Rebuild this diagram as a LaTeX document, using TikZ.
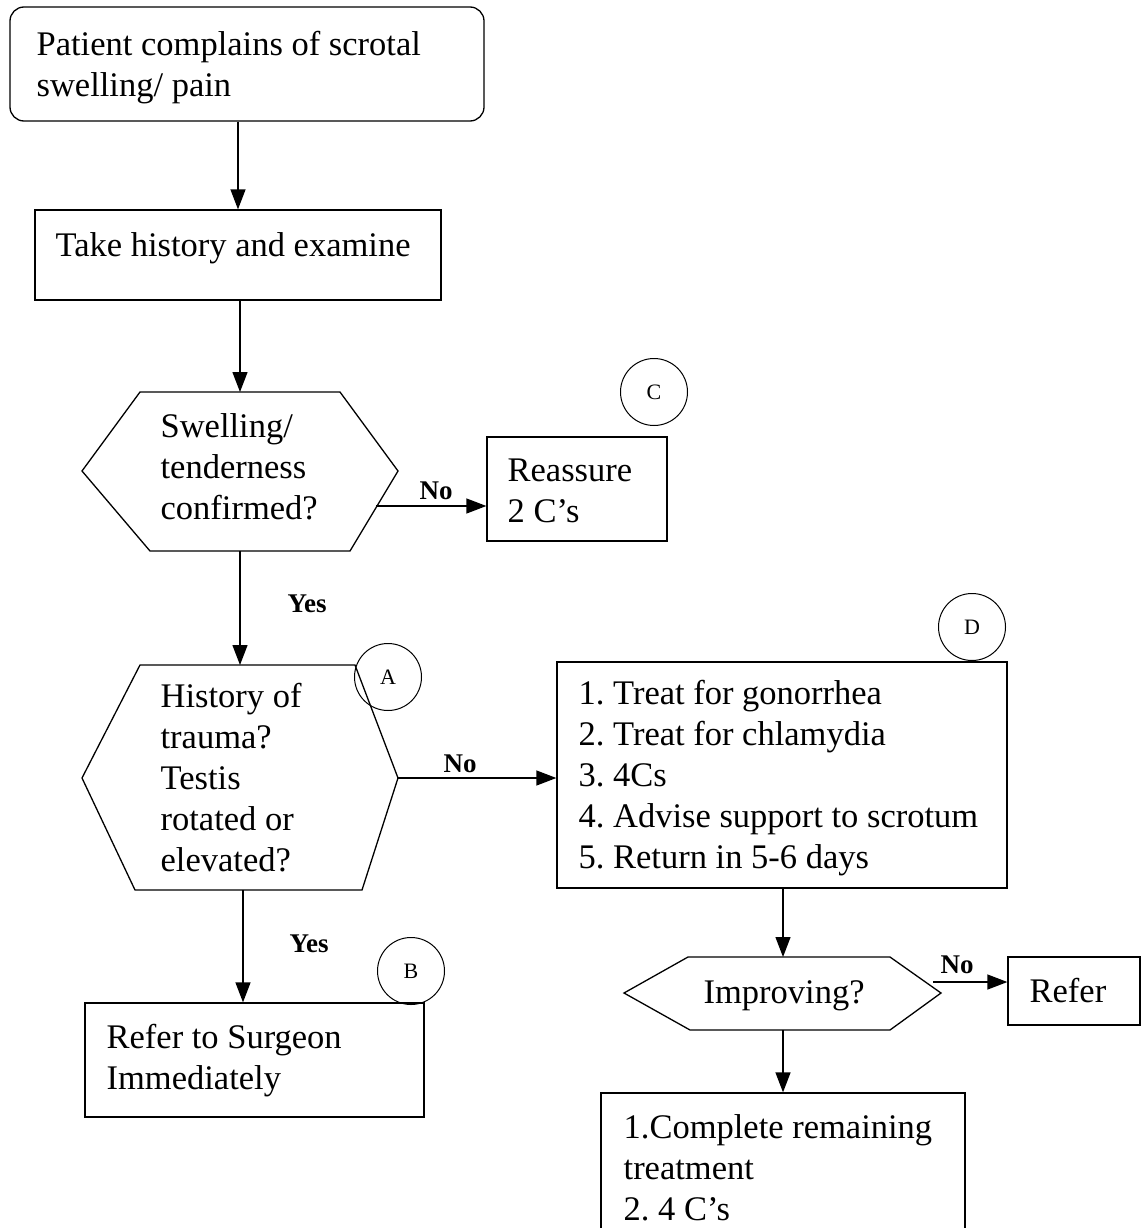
\documentclass[tikz,border=0pt]{standalone}
\usepackage{fontspec}
\setmainfont{Liberation Serif}
\usetikzlibrary{arrows.meta}
\frenchspacing
\begin{document}
\begin{tikzpicture}[x=1pt,y=-1pt, line width=1.3pt,
 box/.style={draw, rectangle, inner sep=0pt},
 txt/.style={anchor=base west, inner sep=0pt, font=\fontsize{34.5}{41}\selectfont, align=left},
 lbl/.style={inner sep=0pt, font=\fontsize{27}{28}\selectfont\bfseries},
 tag/.style={draw, circle, minimum size=67pt, inner sep=0pt, line width=1pt, font=\fontsize{22}{22}\selectfont},
 arr/.style={-{Triangle[length=20pt,width=15pt]}}]
\clip (0,0) rectangle (1142,1228);
\fill[white] (0,0) rectangle (1142,1228);

% boxes (text nodes: anchor at the baseline of the last line)
\node[box, rounded corners=14pt, minimum width=474pt, minimum height=114pt] (start) at (247,64) {};
\node[txt] (starttxt) at (36,97) {Patient complains of scrotal\\swelling/ pain};

\node[box, minimum width=406pt, minimum height=90pt] (hist) at (238,255) {};
\node[txt] (histtxt) at (55,256) {Take history and examine};

% hexagon 1
\coordinate (h1n) at (240,392);
\coordinate (h1s) at (240,551);
\coordinate (h1no) at (376,506);
\draw (140,392) -- (340,392) -- (398,471) -- (350,551) -- (150,551) -- (82,471) -- cycle;
\node[txt] (h1txt) at (160,519) {Swelling/\\tenderness\\confirmed?};

\node[box, minimum width=180pt, minimum height=104pt] (reass) at (577,489) {};
\node[txt] (reasstxt) at (507,522) {Reassure\\2 C’s};

% hexagon 2
\coordinate (h2n) at (240,665);
\coordinate (h2s) at (243,890);
\coordinate (h2e) at (398,778);
\draw (140,665) -- (355,665) -- (398,778) -- (362,890) -- (135,890) -- (82,778) -- cycle;
\node[txt] (h2txt) at (160,871) {History of\\trauma?\\Testis\\rotated or\\elevated?};

\node[box, minimum width=450pt, minimum height=226pt] (treat) at (782,775) {};
\node[txt] (treattxt) at (578,868) {1. Treat for gonorrhea\\2. Treat for chlamydia\\3. 4Cs\\4. Advise support to scrotum\\5. Return in 5-6 days};

\node[box, minimum width=339pt, minimum height=114pt] (surg) at (254.5,1060) {};
\node[txt] (surgtxt) at (106,1089) {Refer to Surgeon\\Immediately};

% hexagon 3
\coordinate (h3n) at (783,957);
\coordinate (h3s) at (783,1030);
\coordinate (h3no) at (933,982);
\draw (688,957) -- (890,957) -- (941,993) -- (890,1030) -- (690,1030) -- (624,993) -- cycle;
\node[txt] (h3txt) at (703,1003) {Improving?};

\node[box, minimum width=132pt, minimum height=68pt] (refer) at (1074,991) {};
\node[txt] (refertxt) at (1029,1002) {Refer};

\node[box, minimum width=364pt, minimum height=157pt] (final) at (783,1171.5) {};
\node[txt] (finaltxt) at (623,1220) {1.Complete remaining\\treatment\\2. 4 C’s};

% tags
\node[tag] (tagC) at (654,392) {C};
\node[tag] (tagA) at (388,677) {A};
\node[tag] (tagB) at (411,971) {B};
\node[tag] (tagD) at (972,627) {D};

% connectors
\draw[arr] (start.south -| hist.north) -- (hist.north);
\draw[arr] (hist.south -| h1n) -- (h1n);
\draw[arr] (h1no) -- (h1no -| reass.west);
\draw[arr] (h1s) -- (h2n);
\draw[arr] (h2e) -- (h2e -| treat.west);
\draw[arr] (h2s) -- (h2s |- surg.north);
\draw[arr] (treat.south -| h3n) -- (h3n);
\draw[arr] (h3no) -- (h3no -| refer.west);
\draw[arr] (h3s) -- (h3s |- final.north);

% labels
\node[lbl] (no1) at (436,491) {No};
\node[lbl] (yes1) at (307,604) {Yes};
\node[lbl] (no2) at (460,764) {No};
\node[lbl] (yes2) at (309,944) {Yes};
\node[lbl] (no3) at (957,965) {No};
\end{tikzpicture}
\end{document}
